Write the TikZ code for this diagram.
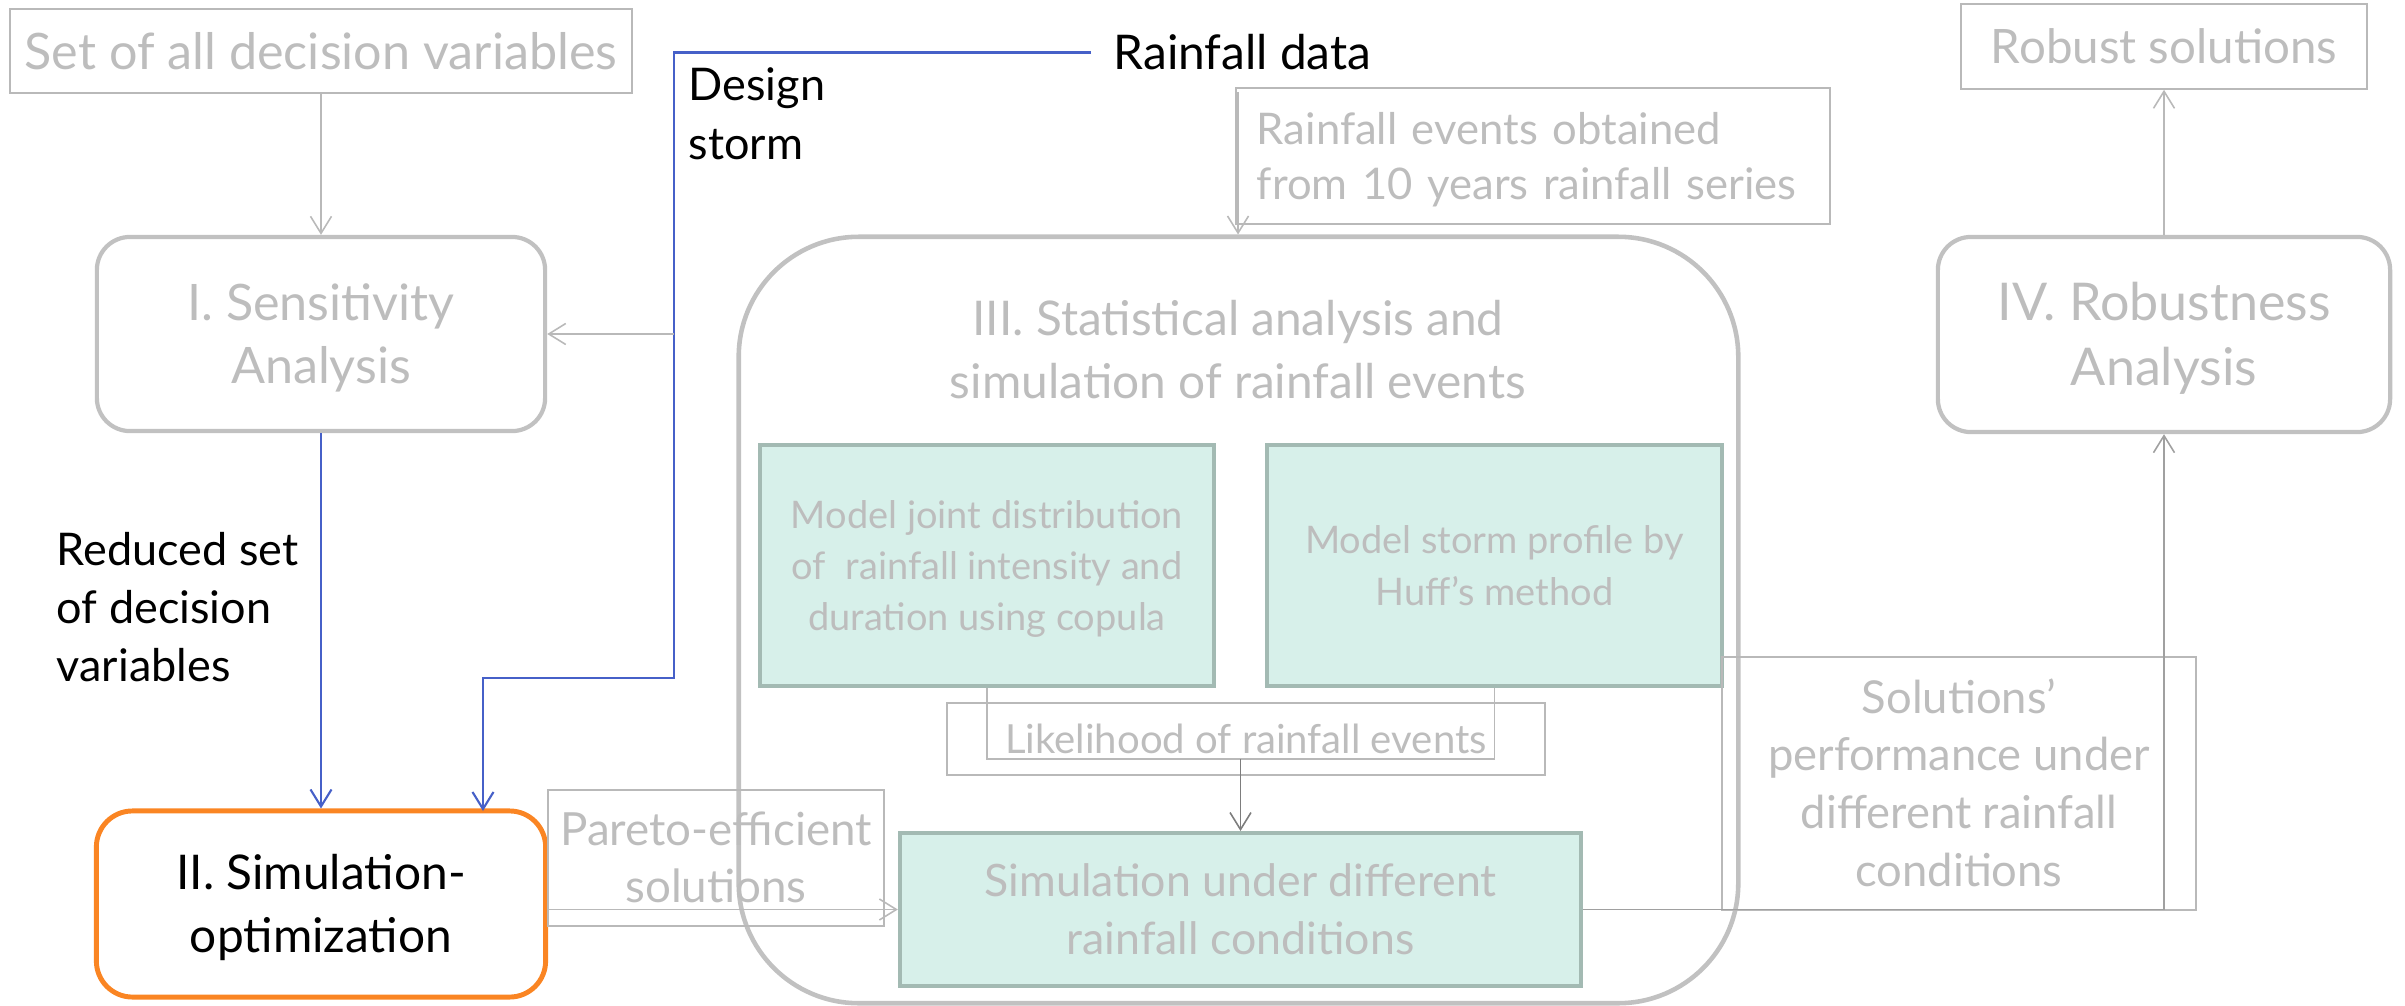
\documentclass[tikz,border=0pt]{standalone}
\usepackage{fontspec}
\setmainfont{Lato}
\usetikzlibrary{arrows.meta,calc}

\definecolor{txtgray}{RGB}{189,189,189}
\definecolor{linegray}{RGB}{185,185,185}
\definecolor{boxgray}{RGB}{193,193,193}
\definecolor{darkline}{RGB}{125,125,125}
\definecolor{midline}{RGB}{160,160,160}
\definecolor{mint}{RGB}{215,240,234}
\definecolor{mintborder}{RGB}{163,186,179}
\definecolor{orng}{RGB}{250,133,35}
\definecolor{bluel}{RGB}{70,96,200}

\newcommand\Ln[1]{\smash{#1}\vphantom{H}}

\tikzset{
  thinbox/.style={draw=linegray, line width=0.45pt, inner sep=0pt, text=txtgray, align=center},
  roundbox/.style={draw=boxgray, line width=1.2pt, rounded corners=0.33cm, inner sep=0pt, text=txtgray, align=center},
  mintbox/.style={draw=mintborder, fill=mint, line width=1.1pt, inner sep=0pt, text=txtgray, align=center},
  conn/.style={draw=linegray, line width=0.45pt},
  arr/.style={conn, -{Straight Barb[length=0.17cm,width=0.21cm]}},
  darkarr/.style={draw=darkline, line width=0.45pt, -{Straight Barb[length=0.17cm,width=0.21cm]}},
  midarr/.style={draw=midline, line width=0.45pt, -{Straight Barb[length=0.17cm,width=0.21cm]}},
  bluearr/.style={draw=bluel, line width=0.6pt, -{Straight Barb[length=0.17cm,width=0.21cm]}},
  fbig/.style={font=\fontsize{14.3}{17.9}\selectfont},
  fsmall/.style={font=\fontsize{10.8}{14.5}\selectfont},
}

\begin{document}
\begin{tikzpicture}[x=0.01cm, y=-0.01cm]
\useasboundingbox (0,0) rectangle (2405,1006);

% ---- left column
\node[thinbox, fbig, minimum width=6.22cm, minimum height=0.84cm] (set) at (321,51) {\Ln{Set of all decision variables}};
\node[roundbox, fbig, minimum width=4.48cm, minimum height=1.94cm] (sens) at (321,334) {\Ln{I. Sensitivity}\\\Ln{Analysis}};
\node[draw=orng, line width=1.4pt, rounded corners=0.36cm, inner sep=0pt, align=center, text=black,
      font=\fontsize{13.6}{17.9}\selectfont, minimum width=4.49cm, minimum height=1.86cm] (simopt) at (321,904) {\Ln{II. Simulation-}\\\Ln{optimization}};
\node[font=\fontsize{12.8}{16.4}\selectfont, align=left, anchor=west, inner sep=0pt, text=black] (redlab) at (56,607.5)
  {\Ln{Reduced set}\\\Ln{of decision}\\\Ln{variables}};

% ---- rainfall data / design storm
\node[font=\fontsize{13.6}{17}\selectfont, anchor=west, inner xsep=0.22cm, inner ysep=0pt, text=black] (rdata) at (1091,52.5) {\Ln{Rainfall data}};
\node[font=\fontsize{12.8}{16.8}\selectfont, align=left, anchor=west, inner sep=0pt, text=black] (dslab) at (688,113.5)
  {\Ln{Design}\\\Ln{storm}};

% ---- block III
\node[roundbox, rounded corners=1.2cm, line width=1.3pt, minimum width=9.99cm, minimum height=7.66cm] (stat) at (1238.5,620) {};
\node[font=\fontsize{13.6}{17.9}\selectfont, align=center, inner sep=0pt, text=txtgray] (stattitle) at (1238,349.5)
  {\Ln{III. Statistical analysis and}\\\Ln{simulation of rainfall events}};
\node[thinbox, font=\fontsize{12.4}{15.65}\selectfont, text width=5.52cm, align=left, inner xsep=0.21cm, inner ysep=0pt,
      minimum height=1.36cm] (events) at (1533,156)
  {\Ln{Rainfall events obtained}\\\Ln{from 10 years rainfall series}};
\node[mintbox, fsmall, minimum width=4.54cm, minimum height=2.41cm] (joint) at (987,565.5)
  {\Ln{Model joint distribution}\\\Ln{of~ rainfall intensity and}\\\Ln{duration using copula}};
\node[mintbox, font=\fontsize{10.8}{14.8}\selectfont, minimum width=4.55cm, minimum height=2.41cm] (storm) at (1494.5,565.5)
  {\Ln{Model storm profile by}\\\Ln{Huff’s method}};
\node[mintbox, font=\fontsize{12.7}{16.5}\selectfont, minimum width=6.81cm, minimum height=1.53cm] (sim) at (1240.5,909.5)
  {\Ln{Simulation under different}\\\Ln{rainfall conditions}};
\node[thinbox, font=\fontsize{11.4}{14}\selectfont, minimum width=5.98cm, minimum height=0.72cm] (lik) at (1246,739)
  {\Ln{Likelihood of rainfall events}};
\node[thinbox, font=\fontsize{13}{16.2}\selectfont, minimum width=3.36cm, minimum height=1.36cm] (pareto) at (716,858)
  {\Ln{Pareto-efficient}\\\Ln{solutions}};

% ---- right column
\node[thinbox, font=\fontsize{13.5}{16}\selectfont, minimum width=4.06cm, minimum height=0.85cm] (robsol) at (2164,46.5) {\Ln{Robust solutions}};
\node[roundbox, font=\fontsize{14.8}{18.5}\selectfont, minimum width=4.52cm, minimum height=1.95cm] (rob) at (2164,334.5)
  {\Ln{IV. Robustness}\\\Ln{Analysis}};
\node[thinbox, font=\fontsize{12.9}{16.4}\selectfont, minimum width=4.74cm, minimum height=2.53cm] (solbox) at (1959,783.5)
  {\Ln{Solutions’}\\\Ln{performance under}\\\Ln{different rainfall}\\\Ln{conditions}};

% ---- connectors
\coordinate (dsturn) at (674,678);
\coordinate (dsin) at (483,811);
\coordinate (branch) at (674,334);
\coordinate (lkmid) at (1240.5,759);
\coordinate (evin) at ($(events.north west)+(3,5)$);

\draw[arr] (set.south) -- (sens.north);
\draw[bluearr] (sens.south) -- (simopt.north);
\draw[bluearr] (rdata.west) -| (dsturn) -| (dsin);
\draw[arr] (branch) -- (sens.east);
\draw[arr] (evin) -- (evin |- stat.north);
\draw[arr] (simopt.east |- sim.west) -- (sim.west);
\draw[conn] (joint.south) |- (lkmid) -| (storm.south);
\draw[darkarr] (lkmid) -- (sim.north);
\draw[midarr] (sim.east) -| (rob.south);
\draw[arr] (rob.north) -- (robsol.south);
\end{tikzpicture}
\end{document}
